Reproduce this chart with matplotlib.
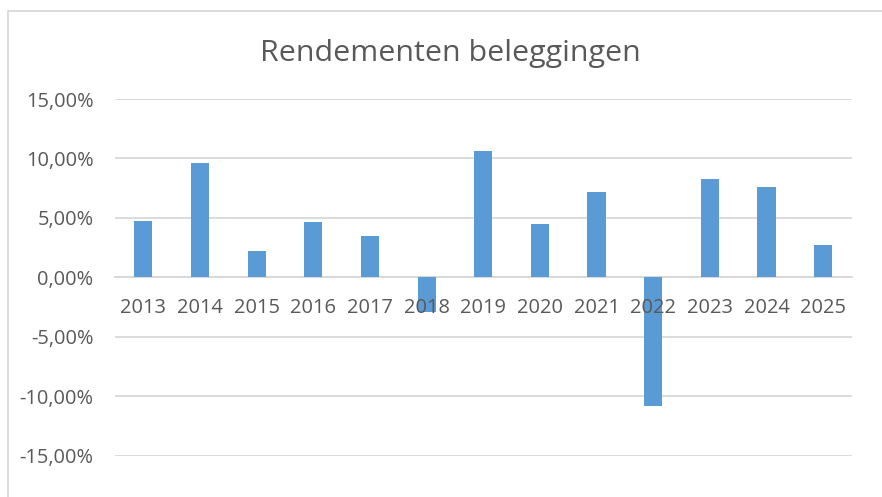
import matplotlib
matplotlib.use("Agg")
import matplotlib.pyplot as plt
from matplotlib.patches import Rectangle
from matplotlib.ticker import FuncFormatter

years = ["2013", "2014", "2015", "2016", "2017", "2018", "2019",
         "2020", "2021", "2022", "2023", "2024", "2025"]
returns = [4.76, 9.58, 2.18, 4.68, 3.48, -2.94, 10.59,
           4.49, 7.14, -10.78, 8.27, 7.56, 2.69]
yticks = [-15, -10, -5, 0, 5, 10, 15]
title = "Rendementen beleggingen"

plt.rcParams['font.family'] = ['Open Sans', 'DejaVu Sans']
text_color = "#595959"
grid_color = "#D9D9D9"
bar_color = "#5B9BD5"

W, H = 882, 497
fig = plt.figure(figsize=(W / 100, H / 100), dpi=100)

# chart border
fig.patches.append(Rectangle((8 / W, -0.1), 1.0, 1 - 10.5 / H + 0.1,
                             transform=fig.transFigure, fill=False,
                             edgecolor=grid_color, linewidth=1.3))

left, right = 115 / W, 851.5 / W
top, bottom = 1 - 99 / H, 1 - 455.7 / H
ax = fig.add_axes([left, bottom, right - left, top - bottom])

x = list(range(len(years)))
ax.bar(x, returns, width=0.32, color=bar_color, zorder=3)

ax.set_xlim(-0.5, len(years) - 0.5)
ax.set_ylim(-15, 15)
ax.set_yticks(yticks)
ax.yaxis.set_major_formatter(FuncFormatter(lambda v, p: f"{v:.2f}%".replace(".", ",")))
ax.grid(axis='y', color=grid_color, linewidth=1.3, zorder=0)
ax.set_axisbelow(True)

for s in ['top', 'right', 'left']:
    ax.spines[s].set_visible(False)
ax.spines['bottom'].set_position(('data', 0))
ax.spines['bottom'].set_color(grid_color)
ax.spines['bottom'].set_linewidth(1.3)
ax.spines['bottom'].set_zorder(2)

ax.set_xticks(x)
ax.set_xticklabels(years)
ax.tick_params(axis='x', length=0, pad=15, labelsize=14.4, labelcolor=text_color)
ax.tick_params(axis='y', length=0, pad=15.5, labelsize=14.4, labelcolor=text_color)
ax.xaxis.set_zorder(4)

fig.text(450 / W, 1 - 53 / H, title, ha='center', va='center',
         fontsize=21.9, color=text_color)

fig.savefig("out.png", dpi=100)
